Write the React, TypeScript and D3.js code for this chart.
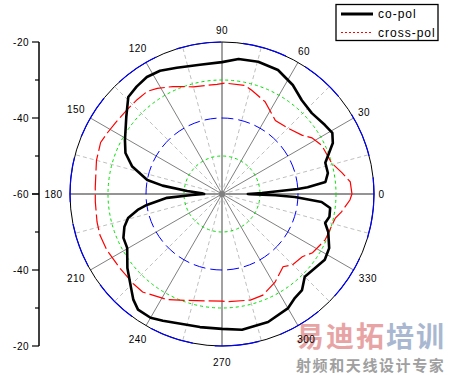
import * as d3 from "d3";

// angle in degrees (counter-clockwise from 0 = east), value in dB
const coPolAngles = [
  0, 1.5, 3.8, 4.5, 6.6, 11.2, 16.8, 24.7, 29, 33.8, 42, 49.6, 57, 65.7, 74.7, 83, 90,
  99.7, 109.7, 116.7, 122.7, 128.5, 134, 141, 151, 157, 163, 169.4, 172, 175, 178, 180,
  182, 184, 188.3, 190.7, 194.3, 198.6, 204, 209.6, 218, 224.7, 230, 234, 240, 245,
  260.6, 270, 278.4, 289.8, 300.1, 305.1, 309.8, 315, 321.5, 327.4, 333.2, 340.3,
  344.3, 348, 352.6, 355.4, 357.6, 358.6, 359.5,
];
const coPolValues = [
  -53.2, -49.5, -40, -37.4, -32.6, -31.6, -31.6, -27.9, -26.8, -27.4, -28.2, -27.6, -25.8,
  -24.2, -23.9, -24.2, -25.3, -25.5, -24.7, -23.7, -23.4, -23.9, -24.5, -27.6, -30.8,
  -32.4, -35.3, -40, -44.2, -50.8, -54.7, -55.3, -52.1, -45.5, -40, -37.4, -34.5, -32.9,
  -31.6, -31.3, -28.4, -26.1, -23.7, -22.4, -22.4, -23.2, -24.5, -24.5, -23.9, -24.2,
  -25.3, -26.6, -27.1, -29.2, -28.7, -27.9, -28.4, -30.3, -31.8, -31.1, -31.3, -33.7,
  -40.8, -46, -52.6,
];

const crossPolAngles = [
  0, 5.4, 10, 15.7, 26, 32, 36.4, 45, 54, 65, 74, 78, 88.5, 92.6, 105, 114.6, 121.5, 126,
  132, 138.5, 146, 152, 157, 165, 177, 183.6, 192.6, 198.6, 206, 216, 225, 231, 242.6,
  251.7, 270, 273, 285, 292, 301, 310, 315, 322, 327, 336, 348, 351.5, 357.3,
];
const crossPolValues = [
  -25.8, -26.1, -27.9, -30, -30.8, -32.1, -33.9, -35.5, -36.1, -33.2, -31.6, -30.8, -30.8,
  -31.1, -30.8, -28.9, -27.4, -26.6, -26.6, -26.6, -26.3, -25.8, -25.3, -25.8, -26.6,
  -26.6, -26.3, -26.1, -26.3, -26.8, -26.8, -26.8, -28.7, -30.5, -31.8, -31.6, -31.1,
  -31.3, -32.9, -35, -33.7, -33.2, -31.6, -30.3, -29.5, -28.2, -26.3,
];

const angleLabels = [0, 30, 60, 90, 120, 150, 180, 210, 240, 270, 300, 330];
const radialTicks = [-20, -40, -60, -40, -20];
const legendLabels = ["co-pol", "cross-pol"];

const W = 450;
const H = 375;
const cx = 222;
const cy = 194;
const R = 152;
const font = "'Liberation Sans', Arial, sans-serif";

const toRad = (a: number) => ((90 - a) * Math.PI) / 180;

export default function App() {
  const r = d3.scaleLinear().domain([-60, -20]).range([0, R]);
  const yUp = d3.scaleLinear().domain([-60, -20]).range([cy, cy - R]);
  const yDown = d3.scaleLinear().domain([-60, -20]).range([cy, cy + R]);

  const radial = d3
    .lineRadial<[number, number]>()
    .angle((d) => toRad(d[0]))
    .radius((d) => r(d[1]))
    .curve(d3.curveLinearClosed);

  const coPol = coPolAngles.map((a, i) => [a, coPolValues[i]] as [number, number]);
  const crossPol = crossPolAngles.map((a, i) => [a, crossPolValues[i]] as [number, number]);

  const spokes = d3.range(0, 360, 15);
  const px = (a: number, rr: number) => cx + rr * Math.cos((a * Math.PI) / 180);
  const py = (a: number, rr: number) => cy - rr * Math.sin((a * Math.PI) / 180);

  const axisTickVals = [-20, -30, -40, -50, -60];

  return (
    <svg
      width={W}
      height={H}
      style={{ position: "absolute", left: 0, top: 0, background: "#fff" }}
      fontFamily={font}
    >
      {/* spokes */}
      {spokes.map((a) => {
        const major = a % 30 === 0;
        const axis = a % 90 === 0;
        return (
          <line
            key={a}
            x1={cx}
            y1={cy}
            x2={px(a, R)}
            y2={py(a, R)}
            stroke={axis ? "#707070" : major ? "#808080" : "#c0c0c0"}
            strokeWidth={axis ? 1.3 : 1}
            strokeDasharray={major ? undefined : "4,3"}
          />
        );
      })}
      {/* rings */}
      <circle cx={cx} cy={cy} r={r(-50)} fill="none" stroke="#00e000" strokeDasharray="3,3" />
      <circle cx={cx} cy={cy} r={r(-30)} fill="none" stroke="#00e000" strokeDasharray="3,3" />
      <circle cx={cx} cy={cy} r={r(-40)} fill="none" stroke="#0000ff" strokeDasharray="12,5" />
      <circle cx={cx} cy={cy} r={r(-20)} fill="none" stroke="#000" strokeWidth={1} />
      <circle cx={cx} cy={cy} r={r(-20)} fill="none" stroke="#0000ff" strokeWidth={1.2} strokeDasharray="45,22" />
      <circle cx={cx} cy={cy} r={3} fill="#808080" />

      {/* data */}
      <g transform={`translate(${cx},${cy})`}>
        <path d={radial(crossPol) ?? ""} fill="none" stroke="#ff0000" strokeWidth={1.2} strokeDasharray="16,4" />
        <path d={radial(coPol) ?? ""} fill="none" stroke="#000" strokeWidth={2.6} strokeLinejoin="round" />
      </g>

      {/* watermark */}
      <text
        x={296}
        y={347}
        fontSize={28}
        fontWeight="bold"
        letterSpacing={2}
        fontFamily="'Noto Sans CJK SC', sans-serif"
      >
        <tspan fill="#e8a4a4">易迪拓</tspan>
        <tspan fill="#a9b8d0">培训</tspan>
      </text>
      <text
        x={296}
        y={371}
        fontSize={15}
        fontWeight="bold"
        fill="#a0a0a0"
        letterSpacing={1.6}
        fontFamily="'Noto Sans CJK SC', sans-serif"
      >
        射频和天线设计专家
      </text>

      {/* angle labels */}
      {angleLabels.map((a) => {
        const txt = String(a);
        const rr = 155 + txt.length * 4.5;
        return (
          <text
            key={a}
            x={px(a, rr)}
            y={py(a, rr)}
            textAnchor="middle"
            dominantBaseline="central"
            fontSize={10}
            letterSpacing={0.5}
          >
            {txt}
          </text>
        );
      })}

      {/* left radial axis */}
      <line x1={39} x2={39} y1={yUp(-20)} y2={yDown(-20)} stroke="#000" strokeWidth={1.5} />
      {[yUp, yDown].map((y, k) =>
        axisTickVals.map((v) => {
          const major = v % 20 === 0;
          return (
            <line
              key={`${k}-${v}`}
              x1={39}
              x2={major ? 32 : 35}
              y1={y(v)}
              y2={y(v)}
              stroke="#000"
              strokeWidth={1.2}
            />
          );
        })
      )}
      {radialTicks.map((v, i) => {
        const y = i < 2 ? yUp(v) : i === 2 ? cy : yDown(v);
        return (
          <text
            key={i}
            x={29}
            y={y}
            textAnchor="end"
            dominantBaseline="central"
            fontSize={10}
            letterSpacing={0.5}
          >
            {v}
          </text>
        );
      })}

      {/* legend */}
      <rect x={336} y={4.5} width={102} height={36} fill="#fff" stroke="#000" strokeWidth={1.3} />
      <line x1={341} x2={373} y1={14} y2={14} stroke="#000" strokeWidth={3} />
      <line x1={341} x2={373} y1={32.5} y2={32.5} stroke="#ff0000" strokeWidth={1} strokeDasharray="2,2" />
      {legendLabels.map((t, i) => (
        <text
          key={t}
          x={378}
          y={14 + i * 18.5}
          dominantBaseline="central"
          fontSize={12}
          letterSpacing={1}
        >
          {t}
        </text>
      ))}
    </svg>
  );
}
